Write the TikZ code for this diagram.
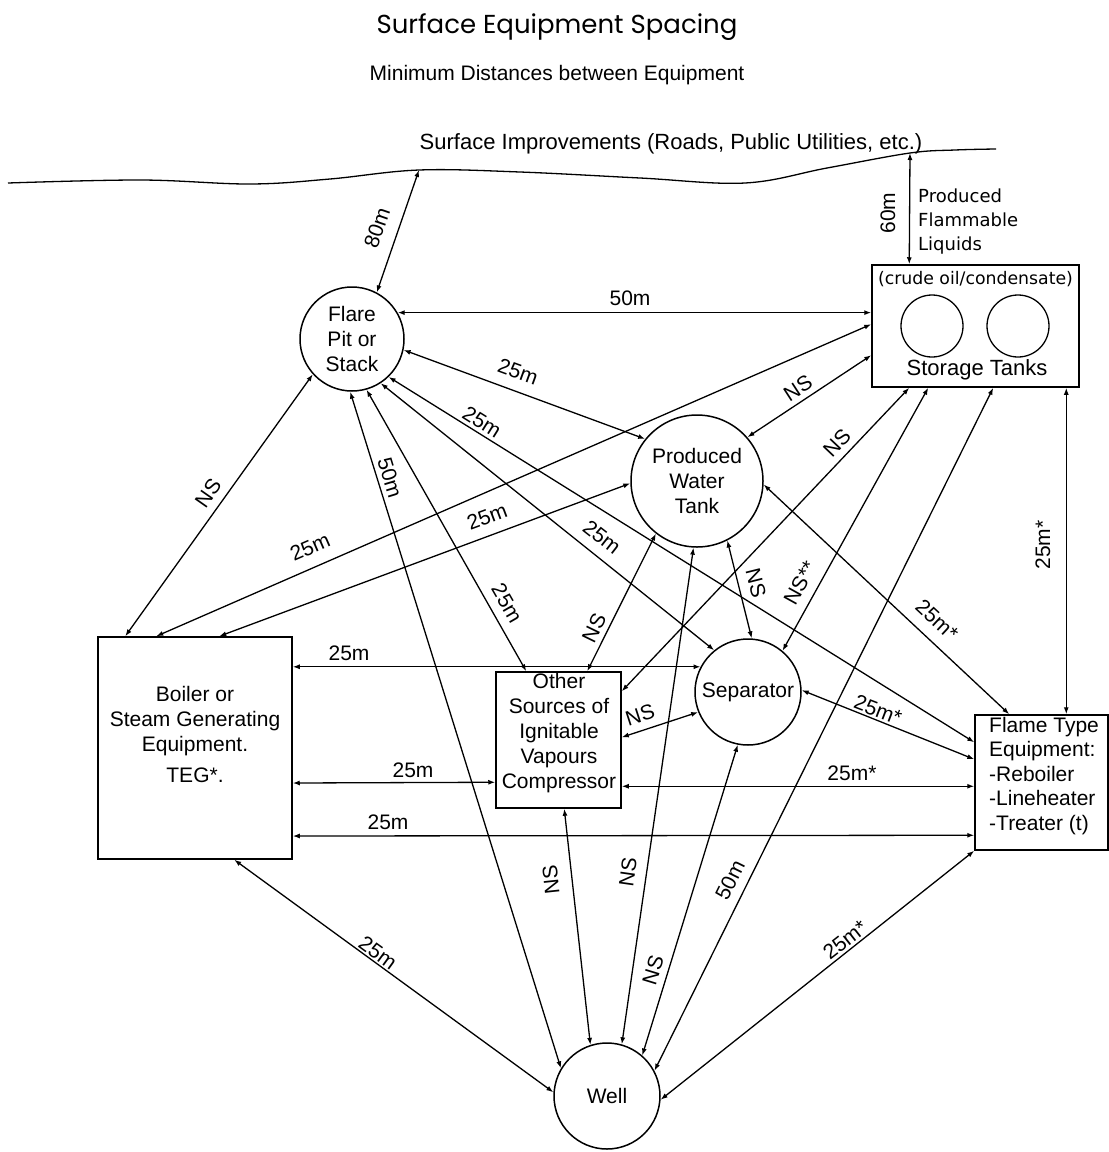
\documentclass[tikz,border=0pt]{standalone}
\usepackage{fontspec}
\setmainfont{Liberation Sans}
\newfontfamily\dejavu{DejaVu Sans}
\newfontfamily\poppins{Poppins}
\usetikzlibrary{arrows.meta}
\begin{document}
\begin{tikzpicture}[x=1pt,y=-1pt,
  lbl/.style={font=\fontsize{21}{25}\selectfont, inner sep=0pt},
  conn/.style={line width=1.3pt, {Latex[length=7pt,width=5pt]}-{Latex[length=7pt,width=5pt]}},
  circ/.style={circle, draw, line width=1.5pt, inner sep=0pt, align=center, font=\fontsize{21}{25}\selectfont},
  box/.style={rectangle, draw, line width=1.5pt, inner sep=0pt}]
\useasboundingbox (0,0) rectangle (1109,1152);

% titles
\node[font=\poppins\fontsize{26}{30}\selectfont, inner sep=0pt] (title) at (557,27) {Surface Equipment Spacing};
\node[font=\fontsize{21}{25}\selectfont, inner sep=0pt] (subtitle) at (557,75) {Minimum Distances between Equipment};
\node[font=\fontsize{22}{26}\selectfont, inner sep=0pt] (surf) at (671,144) {Surface Improvements (Roads, Public Utilities, etc.)};

% wave
\coordinate (w80) at (419,170);
\coordinate (w60) at (910,153);
\draw[line width=1.3pt] plot[smooth, tension=0.6] coordinates {(8,183) (141,180) (250,184) (330,179) (419,170) (520,172) (640,178) (745,183) (827,168) (910,153) (955,150) (996,149)};

% nodes
\node[circ, minimum size=104pt] (flare) at (352,339) {Flare\\Pit or\\Stack};
\node[circ, minimum size=132pt] (pwt) at (697,481) {Produced\\Water\\Tank};
\node[circ, minimum size=106pt] (sep) at (748,692) {Separator};
\node[circ, minimum size=106pt] (well) at (607,1096) {Well};
\node[box, minimum width=207pt, minimum height=122pt] (stor) at (975.5,326) {};
\node[box, minimum width=194pt, minimum height=222pt] (boiler) at (195,748) {};
\node[box, minimum width=125pt, minimum height=136pt] (other) at (558.5,740) {};
\node[box, minimum width=133pt, minimum height=135pt] (flame) at (1041.5,782.5) {};

\node[circle, draw, line width=1.3pt, minimum size=62pt, inner sep=0pt] (tank1) at (932,326) {};
\node[circle, draw, line width=1.3pt, minimum size=62pt, inner sep=0pt] (tank2) at (1018,326) {};
\node[font=\dejavu\fontsize{17.3}{20}\selectfont, inner sep=0pt] (crude) at (975.5,279) {(crude oil/condensate)};
\node[lbl, font=\fontsize{22}{25}\selectfont] (sttxt) at (977,370) {Storage Tanks};
\node[font=\dejavu\fontsize{18}{24}\selectfont, align=left, anchor=west, inner sep=0pt] (pfl) at (918,222) {Produced\\Flammable\\Liquids};

\node[lbl, align=left, anchor=north west, font=\fontsize{21}{24.5}\selectfont] (flametxt) at (989,717) {Flame Type\\Equipment:\\-Reboiler\\-Lineheater\\-Treater (t)};
\node[lbl, align=center] (boilertxt) at (195,734) {Boiler or\\Steam Generating\\Equipment.\\[6pt]TEG*.};
\node[lbl, align=center] (othertxt) at (559,733) {Other\\Sources of\\Ignitable\\Vapours\\Compressor};

% connectors
\draw[conn] (flare.62) -- (w80) node[lbl, rotate=71] at (377,228) {80m};
\draw[conn] ([xshift=38pt]stor.north west) -- (w60) node[lbl, rotate=90] at (888,213) {60m};
\draw[conn] (flare.30) -- (flare.30 -| stor.west) node[lbl] at (630,298) {50m};

\draw[conn] (flare.-12) -- (pwt.141) node[lbl,rotate=-20] at (518,372) {25m};
\draw[conn] (flare.-46) -- ([yshift=-28pt]flame.north west) node[lbl,rotate=-32] at (482,422) {25m};
\draw[conn] (flare.-57) -- (sep.129) node[lbl,rotate=-38] at (602,537) {25m};
\draw[conn] (flare.-74) -- ([xshift=31pt]other.north west) node[lbl,rotate=-60] at (507,603) {25m};
\draw[conn] (flare.-92) -- (well.149) node[lbl,rotate=-73] at (390,478) {50m};
\draw[conn] (flare.-138) -- ([xshift=28pt]boiler.north west) node[lbl,rotate=55] at (208,493) {NS};

\draw[conn] ([xshift=59pt]boiler.north west) -- ([yshift=-60pt]stor.north west) node[lbl,rotate=23.5] at (310,547) {25m};
\draw[conn] ([xshift=122pt]boiler.north west) -- (pwt.-178) node[lbl,rotate=20.5] at (487,517) {25m};
\draw[conn] (pwt.41) -- ([yshift=-91pt]stor.north west) node[lbl,rotate=33] at (798,388) {NS};

\draw[conn] ([xshift=38pt]stor.south west) -- ([yshift=-20pt]other.north east) node[lbl,rotate=46.5] at (837,443) {NS};
\draw[conn] ([xshift=57pt]stor.south west) -- (sep.50) node[lbl,rotate=61] at (800,583) {NS**};
\draw[conn] ([xshift=122pt]stor.south west) -- (well.28) node[lbl,rotate=63.6] at (730,880) {50m};
\draw[conn] ([xshift=195pt]stor.south west) -- ([xshift=92pt]flame.north west) node[lbl,rotate=90] at (1043,545) {25m*};

\draw[conn] (pwt.-128) -- ([xshift=92pt]other.north west) node[lbl,rotate=64] at (594,628) {NS};
\draw[conn] (pwt.-63) -- (sep.86) node[lbl,rotate=-76] at (756,583) {NS};
\draw[conn] (pwt.-93) -- (well.74) node[lbl,rotate=82] at (628,872) {NS};
\draw[conn] (pwt.-3) -- ([xshift=35pt]flame.north west) node[lbl,rotate=-43] at (937,620) {25m*};

\draw[conn] (sep.152) -- (sep.152 -| boiler.east) node[lbl] at (349,653) {25m};
\draw[conn] (sep.-158) -- ([yshift=-66pt]other.north east) node[lbl,rotate=18] at (640,715) {NS};
\draw[conn] (sep.2) -- ([yshift=-45pt]flame.north west) node[lbl,rotate=-21] at (878,710) {25m*};
\draw[conn] (sep.-101) -- (well.49) node[lbl,rotate=73] at (653,970) {NS};

\draw[conn] ([yshift=-35pt]boiler.east) -- ([yshift=-111pt]other.north west) node[lbl] at (413,770) {25m};
\draw[conn] ([yshift=-88pt]boiler.east) -- ([yshift=-121pt]flame.north west) node[lbl] at (388,822) {25m};
\draw[conn] ([yshift=-115pt]other.north east) -- ([yshift=-72pt]flame.north west) node[lbl] at (852,773) {25m*};

\draw[conn] ([xshift=69pt]other.south west) -- (well.108) node[lbl,rotate=96] at (551,880) {NS};
\draw[conn] ([xshift=137pt]boiler.south west) -- (well.176) node[lbl,rotate=-36] at (378,953) {25m};
\draw[conn] (flame.south west) -- (well.-4) node[lbl,rotate=38] at (845,940) {25m*};
\end{tikzpicture}
\end{document}
